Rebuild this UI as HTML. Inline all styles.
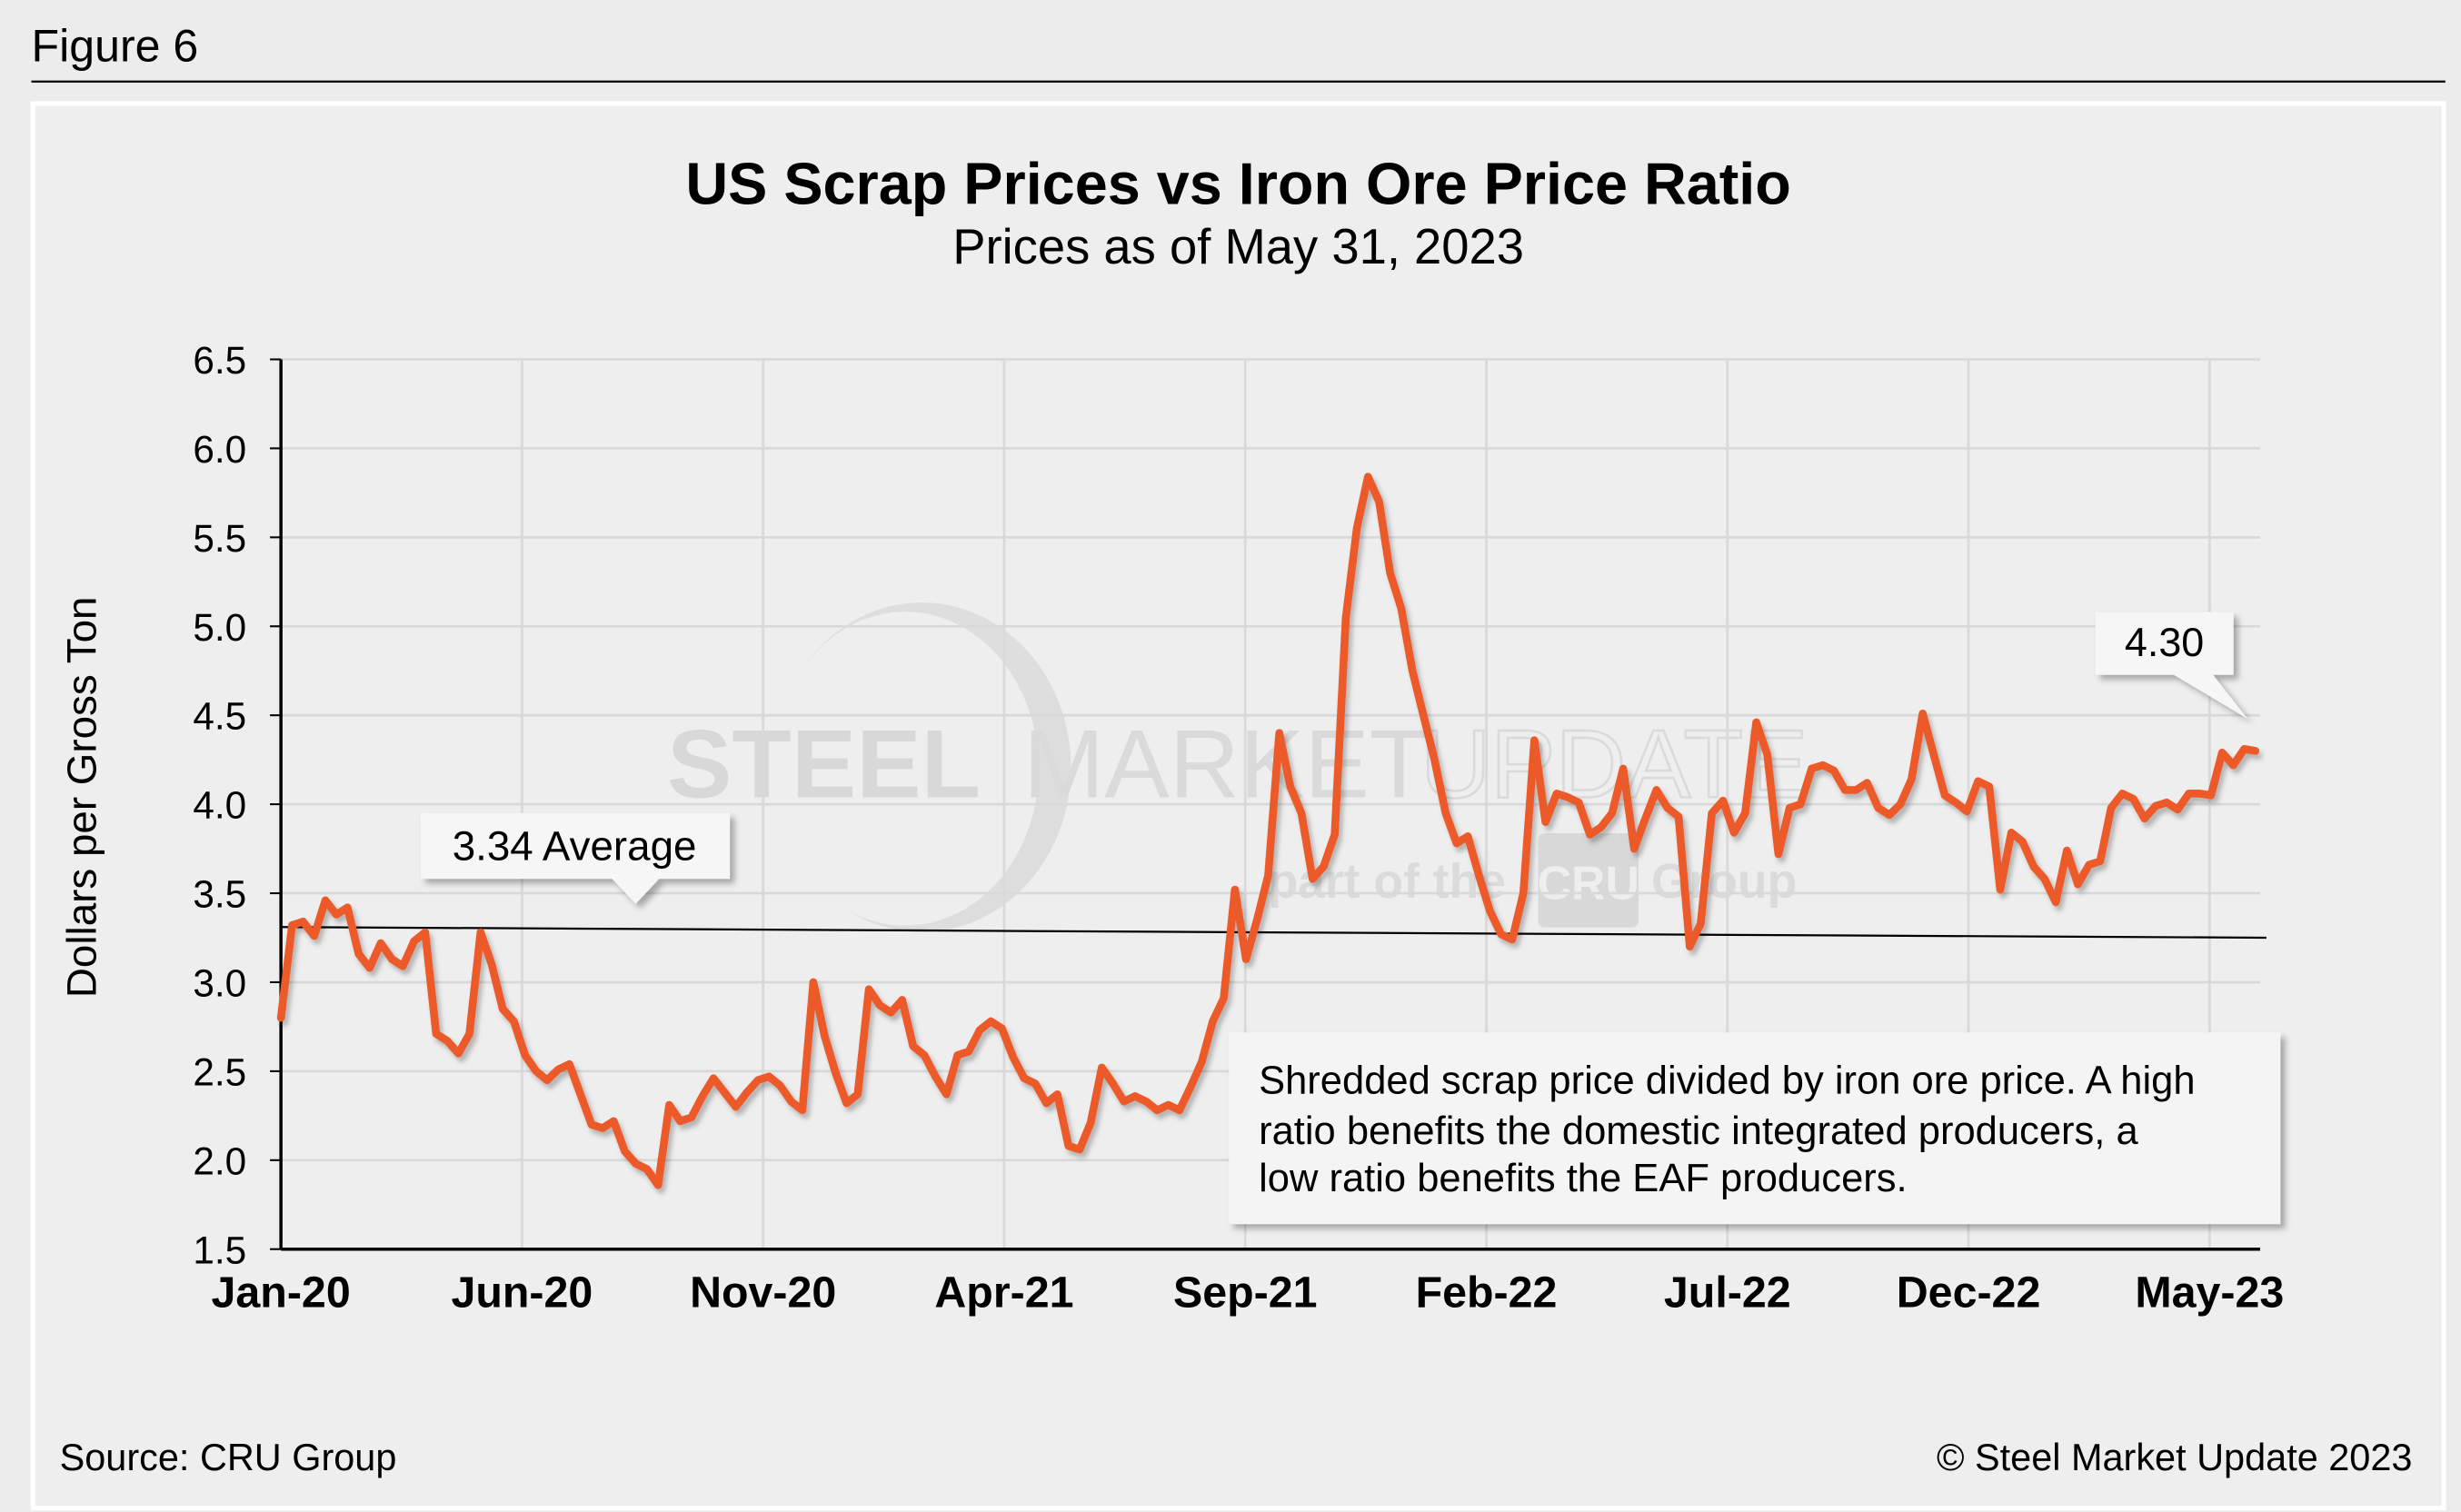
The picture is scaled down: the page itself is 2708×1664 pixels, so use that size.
<!DOCTYPE html>
<html><head><meta charset="utf-8"><style>
html,body{margin:0;padding:0;background:#ececec;}
svg{display:block;font-family:"Liberation Sans",Arial,sans-serif;}
</style></head><body>
<svg id="chart" width="2708" height="1664" viewBox="0 0 1568 963.5" preserveAspectRatio="none" xmlns="http://www.w3.org/2000/svg">
<defs>
<filter id="sh" x="-10%" y="-10%" width="130%" height="140%"><feDropShadow dx="3" dy="3" stdDeviation="2" flood-color="#000" flood-opacity="0.3"/></filter>
<filter id="lsh" x="-5%" y="-5%" width="110%" height="115%"><feDropShadow dx="2" dy="3" stdDeviation="1.5" flood-color="#000" flood-opacity="0.25"/></filter>
</defs>
<rect x="0" y="0" width="1568" height="963.5" fill="#ececec"/>
<text x="20" y="39" font-size="29" fill="#000">Figure 6</text>
<line x1="20" y1="52" x2="1558" y2="52" stroke="#000" stroke-width="1.3"/>
<rect x="21" y="66" width="1536" height="895" fill="#eeeeee" stroke="#ffffff" stroke-width="3"/>
<text x="789" y="130" font-size="37.5" font-weight="bold" text-anchor="middle">US Scrap Prices vs Iron Ore Price Ratio</text>
<text x="789" y="168" font-size="31.5" text-anchor="middle">Prices as of May 31, 2023</text>
<g opacity="0.9">
<path d="M512,425 A95,105 0 1 1 540,580 A85,100 0 1 0 512,425 Z" fill="#dcdcdc"/>
<text x="425" y="508" font-size="62" font-weight="bold" fill="#d6d6d6">STEEL</text>
<text x="652" y="508" font-size="62" fill="#d8d8d8">MARKET</text>
<text x="905" y="508" font-size="62" fill="none" stroke="#d8d8d8" stroke-width="1.5">UPDATE</text>
<text x="808" y="572" font-size="31" font-weight="bold" fill="#dadada">part of the</text>
<rect x="980" y="531" width="64" height="60" rx="4" fill="#d6d6d6"/>
<text x="1012" y="573" font-size="30" font-weight="bold" fill="#eeeeee" text-anchor="middle">CRU</text>
<text x="1052" y="572" font-size="31" font-weight="bold" fill="#dadada">Group</text>
</g>
<g id="grid"></g>
<g id="axes"></g>
<text transform="translate(61,508) rotate(-90)" font-size="26.5" text-anchor="middle">Dollars per Gross Ton</text>
<g id="avgline"></g>
<g id="series"></g>
<g filter="url(#sh)">
<path d="M268,518 H465 V560 H420 L405,576 L390,560 H268 Z" fill="#f6f6f6"/>
</g>
<text x="366" y="548" font-size="26.5" text-anchor="middle">3.34 Average</text>
<g filter="url(#sh)">
<path d="M1335,390 H1423 V430 H1410 L1432,458 L1385,430 H1335 Z" fill="#f6f6f6"/>
</g>
<text x="1379" y="418" font-size="26" text-anchor="middle">4.30</text>
<rect x="783" y="658" width="670" height="122" fill="#f4f4f4" filter="url(#sh)"/>
<g font-size="25.2">
<text x="802" y="697">Shredded scrap price divided by iron ore price. A high</text>
<text x="802" y="729">ratio benefits the domestic integrated producers, a</text>
<text x="802" y="759">low ratio benefits the EAF producers.</text>
</g>
<text x="38" y="937" font-size="24">Source: CRU Group</text>
<text x="1537" y="937" font-size="24" text-anchor="end">© Steel Market Update 2023</text>
</svg>
<script>
const yTicks = [1.5, 2.0, 2.5, 3.0, 3.5, 4.0, 4.5, 5.0, 5.5, 6.0, 6.5];
const xLabels = ["Jan-20","Jun-20","Nov-20","Apr-21","Sep-21","Feb-22","Jul-22","Dec-22","May-23"];
const xLabelMonths = [0, 5, 10, 15, 20, 25, 30, 35, 40];
const ratioValues = [2.8,3.32,3.34,3.26,3.46,3.38,3.42,3.16,3.08,3.22,3.13,3.09,3.23,3.28,2.71,2.67,2.6,2.71,3.28,3.1,2.85,2.78,2.59,2.5,2.45,2.51,2.54,2.37,2.2,2.18,2.22,2.05,1.98,1.95,1.86,2.31,2.22,2.24,2.36,2.46,2.38,2.3,2.38,2.45,2.47,2.42,2.33,2.28,3.0,2.7,2.49,2.32,2.37,2.96,2.87,2.83,2.9,2.64,2.59,2.47,2.37,2.59,2.61,2.73,2.78,2.74,2.58,2.46,2.43,2.32,2.37,2.08,2.06,2.21,2.52,2.43,2.33,2.36,2.33,2.28,2.31,2.28,2.41,2.55,2.78,2.91,
3.52,3.13,3.35,3.6,4.40,4.1,3.95,3.58,3.65,3.83,5.05,5.55,5.84,5.7,5.3,5.1,4.75,4.5,4.25,3.95,3.78,3.82,3.6,3.4,3.27,3.24,3.5,4.36,3.9,4.06,4.04,4.01,3.83,3.87,3.95,4.2,3.75,3.92,4.08,3.98,3.93,3.2,3.33,3.95,4.02,3.84,3.95,4.46,4.28,3.72,3.98,4.0,4.2,4.22,4.19,4.08,4.08,4.12,3.98,3.94,4.0,4.14,4.51,4.28,4.05,4.01,3.96,4.13,4.1,3.52,3.84,3.79,3.65,3.58,3.45,3.74,3.55,3.66,3.68,3.98,4.06,4.03,3.92,3.99,4.01,3.97,4.06,4.06,4.05,4.29,4.22,4.31,4.30];
const averageLineEnds = [3.31, 3.25];

const NS = "http://www.w3.org/2000/svg";
const X0 = 179, X1 = 1437, MONTH_W = 30.72, Y0 = 796, YUNIT = 113.4;
function yScale(v){ return Y0 - (v - 1.5) * YUNIT; }
function xMonth(m){ return X0 + m * MONTH_W; }
function xWeek(i){ return X0 + i * (X1 - X0) / (ratioValues.length - 1); }
function mk(tag, attrs, parent){ const e = document.createElementNS(NS, tag); for (const k in attrs) e.setAttribute(k, attrs[k]); parent.appendChild(e); return e; }

const grid = document.getElementById('grid');
const axes = document.getElementById('axes');
yTicks.forEach(function(v){
  const y = yScale(v);
  if (v > 1.5) {
    const gl = mk('line', {x1: X0, x2: 1440, y1: y, y2: y, stroke: '#d9d9d9', 'stroke-width': 1.6}, grid);
    
    
  }
  const tk = mk('line', {x1: X0 - 7, x2: X0, y1: y, y2: y, stroke: '#000', 'stroke-width': 1.2}, axes);
  
  
  const t = mk('text', {x: 157, y: y + 9, 'font-size': 24.5, 'text-anchor': 'end'}, axes);
  t.textContent = v.toFixed(1);
  
  
});
xLabels.forEach(function(lab, i){
  const x = xMonth(xLabelMonths[i]);
  if (i > 0) {
    const gl = mk('line', {x1: x, x2: x, y1: yScale(6.5), y2: Y0, stroke: '#d9d9d9', 'stroke-width': 1.6}, grid);
    
    
  }
  const t = mk('text', {x: x, y: 833, 'font-size': 28, 'font-weight': 'bold', 'text-anchor': 'middle'}, axes);
  t.textContent = lab;
  
  
});
const ya = mk('line', {x1: X0, x2: X0, y1: yScale(6.5), y2: Y0, stroke: '#000', 'stroke-width': 2}, axes);


const xa = mk('line', {x1: X0, x2: 1440, y1: Y0, y2: Y0, stroke: '#000', 'stroke-width': 2}, axes);



const avg = mk('line', {x1: X0, x2: 1444, y1: yScale(averageLineEnds[0]), y2: yScale(averageLineEnds[1]), stroke: '#000', 'stroke-width': 1.3}, document.getElementById('avgline'));



const pts = ratioValues.map(function(v, i){ return xWeek(i).toFixed(1) + ',' + yScale(v).toFixed(1); }).join(' ');
const pl = mk('polyline', {points: pts, fill: 'none', stroke: '#ec5a2a', 'stroke-width': 5, 'stroke-linejoin': 'round', 'stroke-linecap': 'round', filter: 'url(#lsh)'}, document.getElementById('series'));


</script>
</body></html>
